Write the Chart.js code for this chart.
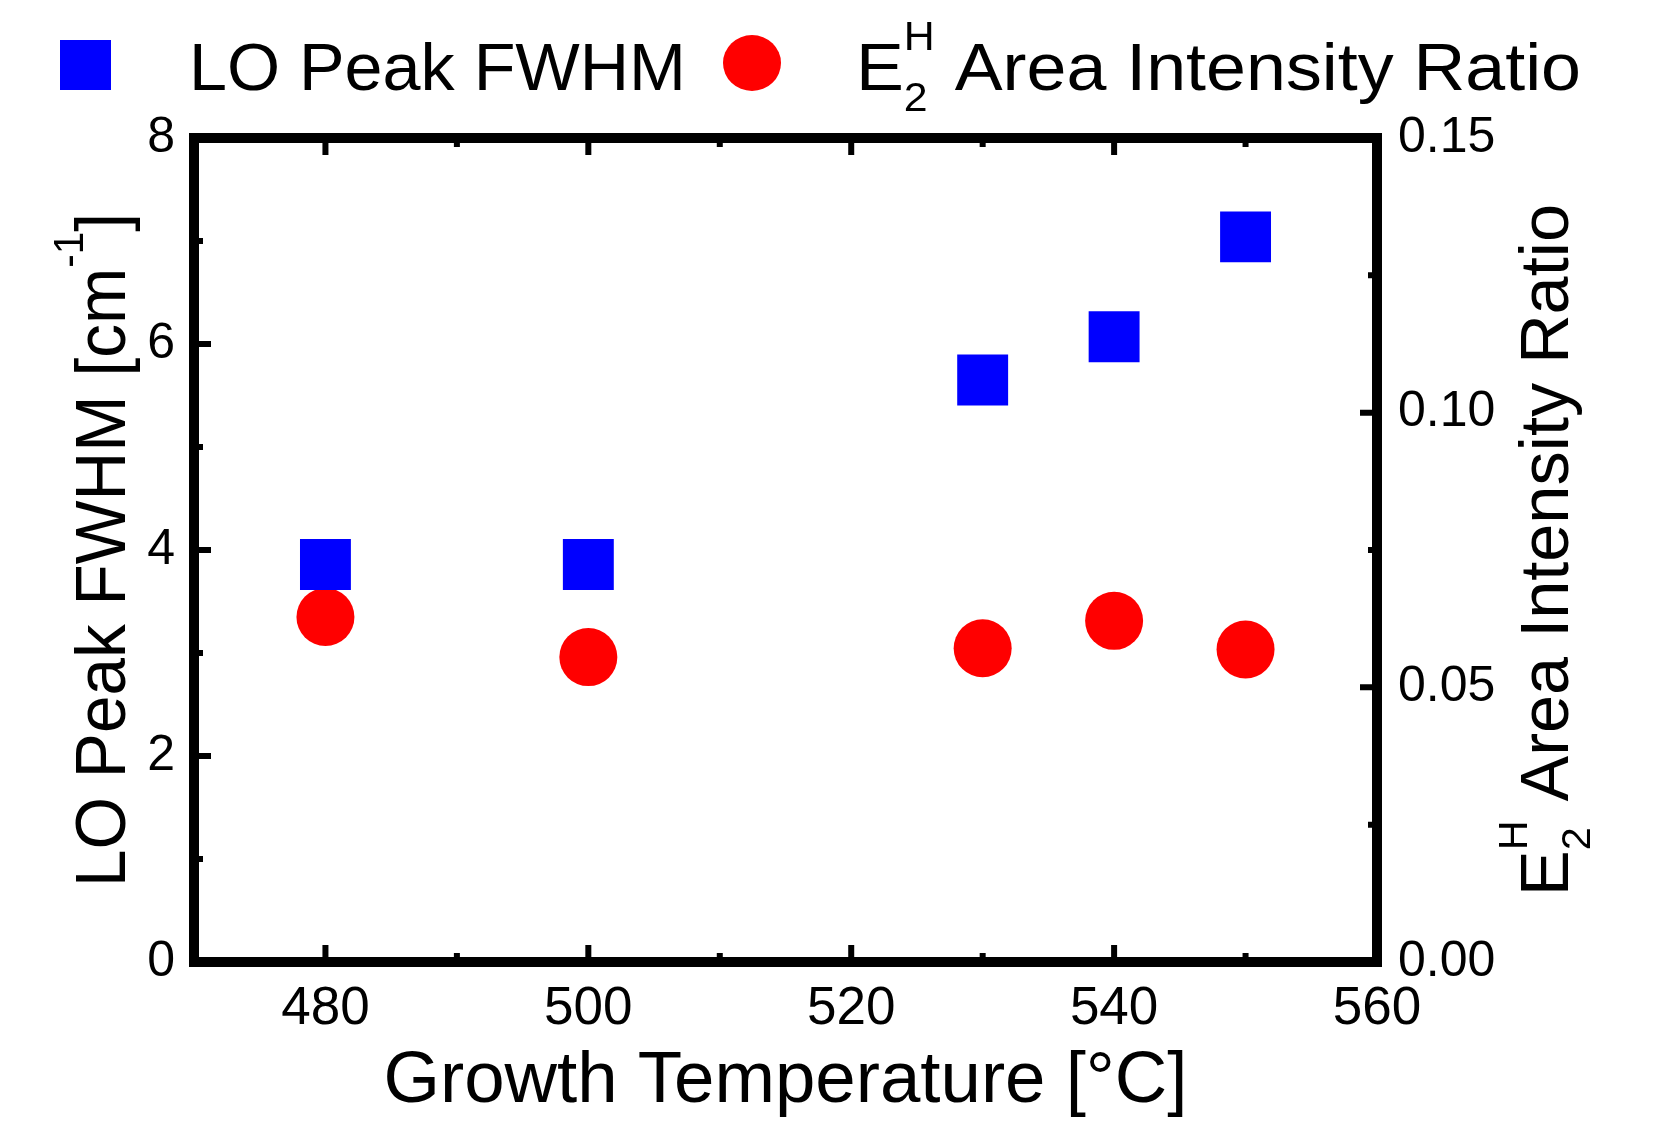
<!DOCTYPE html>
<html>
<head>
<meta charset="utf-8">
<script src="https://cdn.jsdelivr.net/npm/chart.js@4.4.1/dist/chart.umd.min.js"></script>
<style>
html, body { margin: 0; padding: 0; background: #fff; }
</style>
</head>
<body>
<canvas id="chart" width="1661" height="1125"></canvas>
<script>
const temps = [480, 500, 530, 540, 550];
const fwhm = [3.86, 3.86, 5.65, 6.07, 7.04];
const ratio = [0.0628, 0.0555, 0.0571, 0.0621, 0.0569];

const xTicks = [480, 500, 520, 540, 560];
const xMinor = [490, 510, 530, 550];
const yTicks = [0, 2, 4, 6, 8];
const yMinor = [1, 3, 5, 7];
const y1Ticks = [0, 0.05, 0.10, 0.15];
const y1Minor = [0.025, 0.075, 0.125];

const NARROW = '"Liberation Sans Narrow", "Arial Narrow", "Liberation Sans", sans-serif';
const PLAIN = '"Liberation Sans", Arial, sans-serif';

// draws (or just measures) a run of text pieces; {sup, sub} pieces are stacked
function richText(c, x, y, size, parts, draw) {
    let cx = x;
    const small = Math.round(size * 0.6);
    parts.forEach(p => {
        if (typeof p === 'string') {
            c.font = size + 'px ' + NARROW;
            if (draw) c.fillText(p, cx, y);
            cx += c.measureText(p).width;
        } else {
            c.font = small + 'px ' + NARROW;
            let w = 0;
            if (p.sup) {
                if (draw) c.fillText(p.sup, cx, y - size * 0.6);
                w = Math.max(w, c.measureText(p.sup).width);
            }
            if (p.sub) {
                if (draw) c.fillText(p.sub, cx, y + size * 0.32);
                w = Math.max(w, c.measureText(p.sub).width);
            }
            cx += w;
        }
    });
    return cx - x;
}

// text stretched sideways to the given width, starting at local x=0 (or centred)
function fitRich(c, size, parts, width, centred) {
    const w = richText(c, 0, 0, size, parts, false);
    c.save();
    if (centred) c.translate(-width / 2, 0);
    c.scale(width / w, 1);
    richText(c, 0, 0, size, parts, true);
    c.restore();
}

const framePlugin = {
    id: 'frame',
    afterDraw(chart) {
        const c = chart.ctx;
        const a = chart.chartArea;
        const sx = chart.scales.x, sy = chart.scales.y, sy1 = chart.scales.y1;
        c.save();
        c.fillStyle = '#000';
        c.strokeStyle = '#000';

        // ticks pointing inwards
        c.lineWidth = 6;
        c.beginPath();
        const tickX = (vals, len) => vals.forEach(v => {
            const px = sx.getPixelForValue(v);
            c.moveTo(px, a.bottom); c.lineTo(px, a.bottom - len);
            c.moveTo(px, a.top); c.lineTo(px, a.top + len);
        });
        tickX(xTicks, 17);
        tickX(xMinor, 9);
        const tickY = (scale, vals, len, side) => vals.forEach(v => {
            const py = scale.getPixelForValue(v);
            if (side === 'left') { c.moveTo(a.left, py); c.lineTo(a.left + len, py); }
            else { c.moveTo(a.right, py); c.lineTo(a.right - len, py); }
        });
        tickY(sy, yTicks, 17, 'left');
        tickY(sy, yMinor, 9, 'left');
        tickY(sy1, y1Ticks, 17, 'right');
        tickY(sy1, y1Minor, 9, 'right');
        c.stroke();

        c.lineWidth = 10;
        c.strokeRect(a.left, a.top, a.right - a.left, a.bottom - a.top);

        // axis titles
        c.textBaseline = 'alphabetic';
        c.textAlign = 'left';
        c.save();
        c.translate((a.left + a.right) / 2, 1102);
        fitRich(c, 72, ['Growth Temperature [°C]'], 804, true);
        c.restore();

        c.save();
        c.translate(125, (a.top + a.bottom) / 2);
        c.rotate(-Math.PI / 2);
        fitRich(c, 70, ['LO Peak FWHM [cm', {sup: '-1'}, ']'], 674, true);
        c.restore();

        c.save();
        c.translate(1568, (a.top + a.bottom) / 2);
        c.rotate(-Math.PI / 2);
        fitRich(c, 68, ['E', {sup: 'H', sub: '2'}, ' Area Intensity Ratio'], 692, true);
        c.restore();

        // legend
        c.fillStyle = '#0000ff';
        c.fillRect(60, 40, 51, 50);
        c.fillStyle = '#ff0000';
        c.beginPath();
        c.ellipse(752, 63, 29, 28, 0, 0, Math.PI * 2);
        c.fill();
        c.fillStyle = '#000';
        c.save();
        c.translate(189, 90);
        fitRich(c, 67, ['LO Peak FWHM'], 497, false);
        c.restore();
        c.save();
        c.translate(856, 90);
        fitRich(c, 67, ['E', {sup: 'H', sub: '2'}, ' Area Intensity Ratio'], 725, false);
        c.restore();
        c.restore();
    }
};

const ctx = document.getElementById('chart').getContext('2d');
new Chart(ctx, {
    type: 'scatter',
    data: {
        datasets: [{
            label: 'LO Peak FWHM',
            data: temps.map((t, i) => ({x: t, y: fwhm[i]})),
            yAxisID: 'y',
            pointStyle: 'rect',
            pointRadius: 36,
            pointHoverRadius: 36,
            backgroundColor: '#0000ff',
            borderWidth: 0
        }, {
            label: 'E2H Area Intensity Ratio',
            data: temps.map((t, i) => ({x: t, y: ratio[i]})),
            yAxisID: 'y1',
            pointStyle: 'circle',
            pointRadius: 29,
            pointHoverRadius: 29,
            backgroundColor: '#ff0000',
            borderWidth: 0
        }]
    },
    options: {
        responsive: false,
        animation: false,
        layout: {padding: {top: 138, left: 0, right: 0, bottom: 0}},
        plugins: {legend: {display: false}, tooltip: {enabled: false}},
        scales: {
            x: {
                type: 'linear', min: 470, max: 560,
                grid: {display: false, drawTicks: false}, border: {display: false},
                afterBuildTicks: s => { s.ticks = xTicks.map(v => ({value: v})); },
                afterFit: s => { s.height = 163; },
                ticks: {font: {family: NARROW, size: 53}, color: '#000', padding: 16, maxRotation: 0}
            },
            y: {
                type: 'linear', position: 'left', min: 0, max: 8,
                grid: {display: false, drawTicks: false}, border: {display: false},
                afterBuildTicks: s => { s.ticks = yTicks.map(v => ({value: v})); },
                afterFit: s => { s.width = 194; },
                ticks: {font: {family: PLAIN, size: 50}, color: '#000', padding: 19}
            },
            y1: {
                type: 'linear', position: 'right', min: 0, max: 0.15,
                grid: {display: false, drawTicks: false}, border: {display: false},
                afterBuildTicks: s => { s.ticks = y1Ticks.map(v => ({value: v})); },
                afterFit: s => { s.width = 284; },
                ticks: {font: {family: PLAIN, size: 50}, color: '#000', padding: 21,
                        callback: v => v.toFixed(2)}
            }
        }
    },
    plugins: [framePlugin]
});
</script>
</body>
</html>
